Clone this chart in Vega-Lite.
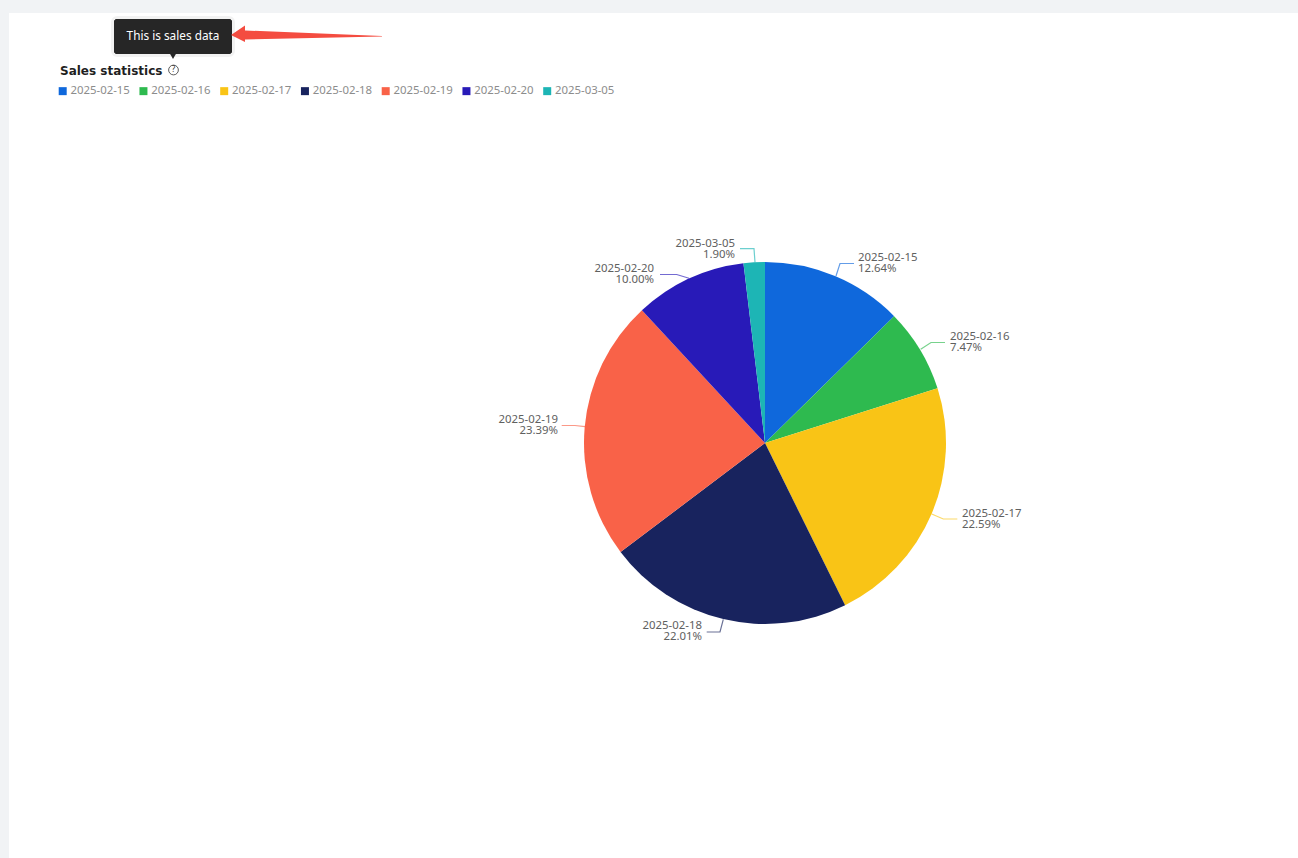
{
"$schema":"https://vega.github.io/schema/vega-lite/v6.json",
"width":1289,"height":845,
"autosize":"none",
"padding":{"left":9,"top":13,"right":0,"bottom":0},
"background":"#f1f3f5",
"view":{"fill":"#ffffff","stroke":null},
"title":{"text":"Sales statistics","anchor":"start","frame":"group","dx":51,"offset":-65,"font":"DejaVu Sans","fontSize":12,"fontWeight":"bold","color":"#1f1f1f"},
"config":{"font":"Noto Sans"},
"datasets":{
"slices":[
{"date":"2025-02-15","share":12.64},
{"date":"2025-02-16","share":7.47},
{"date":"2025-02-17","share":22.59},
{"date":"2025-02-18","share":22.01},
{"date":"2025-02-19","share":23.39},
{"date":"2025-02-20","share":10.00},
{"date":"2025-03-05","share":1.90}],
"labels":[
{"label":"2025-02-15\n12.64%","px":858,"py":258},
{"label":"2025-02-16\n7.47%","px":950,"py":337},
{"label":"2025-02-17\n22.59%","px":962,"py":514},
{"label":"2025-02-18\n22.01%","px":702,"py":626},
{"label":"2025-02-19\n23.39%","px":558,"py":420},
{"label":"2025-02-20\n10.00%","px":654,"py":269},
{"label":"2025-03-05\n1.90%","px":735,"py":244}],
"leaders":[
{"date":"2025-02-15","n":1,"px":836,"py":276},{"date":"2025-02-15","n":2,"px":840,"py":263.5},{"date":"2025-02-15","n":3,"px":854,"py":263.5},
{"date":"2025-02-16","n":1,"px":920.7,"py":349.3},{"date":"2025-02-16","n":2,"px":931,"py":342.5},{"date":"2025-02-16","n":3,"px":945,"py":342.5},
{"date":"2025-02-17","n":1,"px":931.7,"py":514},{"date":"2025-02-17","n":2,"px":943.3,"py":519},{"date":"2025-02-17","n":3,"px":957.3,"py":519},
{"date":"2025-02-18","n":1,"px":723.3,"py":619.3},{"date":"2025-02-18","n":2,"px":720,"py":632},{"date":"2025-02-18","n":3,"px":706.7,"py":632},
{"date":"2025-02-19","n":1,"px":585,"py":426.7},{"date":"2025-02-19","n":2,"px":575,"py":425.5},{"date":"2025-02-19","n":3,"px":561.7,"py":425.5},
{"date":"2025-02-20","n":1,"px":689,"py":278.3},{"date":"2025-02-20","n":2,"px":676.7,"py":274.5},{"date":"2025-02-20","n":3,"px":660,"py":274.5},
{"date":"2025-03-05","n":1,"px":755,"py":262.3},{"date":"2025-03-05","n":2,"px":754,"py":248.7},{"date":"2025-03-05","n":3,"px":740,"py":248.7}],
"arrow":[
{"px":231,"top":35,"bottom":35},
{"px":245,"top":25.5,"bottom":42},
{"px":245.01,"top":30.5,"bottom":39.5},
{"px":382,"top":36,"bottom":36.4}],
"box":[{"x0":114,"x1":232,"y0":19,"y1":54}],
"notes":[{"text":"This is sales data","px":173,"py":36}],
"pointer":[{"px":173,"py":54.7}],
"icon":[{"text":"?","px":173.5,"py":70}]
},
"layer":[
{"data":{"name":"slices"},
"mark":{"type":"arc","radius":181},
"encoding":{
"x":{"datum":765,"type":"quantitative","scale":{"domain":[9,1298],"nice":false,"zero":false},"axis":null},
"y":{"datum":443,"type":"quantitative","scale":{"domain":[858,13],"nice":false,"zero":false},"axis":null},
"theta":{"field":"share","type":"quantitative","stack":true},
"order":{"field":"date"},
"color":{"field":"date","type":"nominal","scale":{"domain":["2025-02-15","2025-02-16","2025-02-17","2025-02-18","2025-02-19","2025-02-20","2025-03-05"],"range":["#0f68dc","#2eba4f","#f9c416","#18235e","#f96248","#281ab8","#1db5b5"]},
"legend":{"title":null,"orient":"none","legendX":48,"legendY":72,"direction":"horizontal","columns":7,"symbolType":"square","symbolSize":64,"symbolStrokeWidth":0,"labelFont":"Noto Sans","labelFontSize":11.4,"labelColor":"#8c8c8c","labelOffset":2,"columnPadding":7.75,"padding":0}}
}},
{"data":{"name":"leaders"},
"mark":{"type":"line","strokeWidth":1.2,"opacity":0.65},
"encoding":{
"x":{"field":"px","type":"quantitative"},
"y":{"field":"py","type":"quantitative"},
"order":{"field":"n"},
"color":{"field":"date","type":"nominal","legend":null}
}},
{"data":{"name":"labels"},
"transform":[{"filter":"datum.px > 765"}],
"mark":{"type":"text","align":"left","baseline":"middle","lineBreak":"\n","lineHeight":11,"fontSize":11.4,"color":"#606060"},
"encoding":{"x":{"field":"px","type":"quantitative"},"y":{"field":"py","type":"quantitative"},"text":{"field":"label"}}},
{"data":{"name":"labels"},
"transform":[{"filter":"datum.px < 765"}],
"mark":{"type":"text","align":"right","baseline":"middle","lineBreak":"\n","lineHeight":11,"fontSize":11.4,"color":"#606060"},
"encoding":{"x":{"field":"px","type":"quantitative"},"y":{"field":"py","type":"quantitative"},"text":{"field":"label"}}},
{"data":{"name":"box"},
"mark":{"type":"rect","fill":"#262626","stroke":"#000000","strokeWidth":6,"strokeOpacity":0.05,"cornerRadius":3},
"encoding":{"x":{"field":"x0","type":"quantitative"},"x2":{"field":"x1"},"y":{"field":"y0","type":"quantitative"},"y2":{"field":"y1"}}},
{"data":{"name":"box"},
"mark":{"type":"rect","fill":"#262626","cornerRadius":3},
"encoding":{"x":{"field":"x0","type":"quantitative"},"x2":{"field":"x1"},"y":{"field":"y0","type":"quantitative"},"y2":{"field":"y1"}}},
{"data":{"name":"pointer"},
"mark":{"type":"point","shape":"triangle-down","filled":true,"fill":"#262626","size":100,"opacity":1},
"encoding":{"x":{"field":"px","type":"quantitative"},"y":{"field":"py","type":"quantitative"}}},
{"data":{"name":"notes"},
"mark":{"type":"text","color":"#ffffff","fontSize":11.8,"align":"center","baseline":"middle"},
"encoding":{"x":{"field":"px","type":"quantitative"},"y":{"field":"py","type":"quantitative"},"text":{"field":"text"}}},
{"data":{"name":"arrow"},
"mark":{"type":"area","color":"#f44c40","orient":"vertical"},
"encoding":{"x":{"field":"px","type":"quantitative"},"y":{"field":"top","type":"quantitative"},"y2":{"field":"bottom"}}},
{"data":{"name":"icon"},
"mark":{"type":"point","shape":"circle","filled":false,"stroke":"#333333","strokeWidth":0.8,"size":95,"opacity":1},
"encoding":{"x":{"field":"px","type":"quantitative"},"y":{"field":"py","type":"quantitative"}}},
{"data":{"name":"icon"},
"mark":{"type":"text","color":"#333333","fontSize":8,"align":"center","baseline":"middle"},
"encoding":{"x":{"field":"px","type":"quantitative"},"y":{"field":"py","type":"quantitative"},"text":{"field":"text"}}}
]
}
